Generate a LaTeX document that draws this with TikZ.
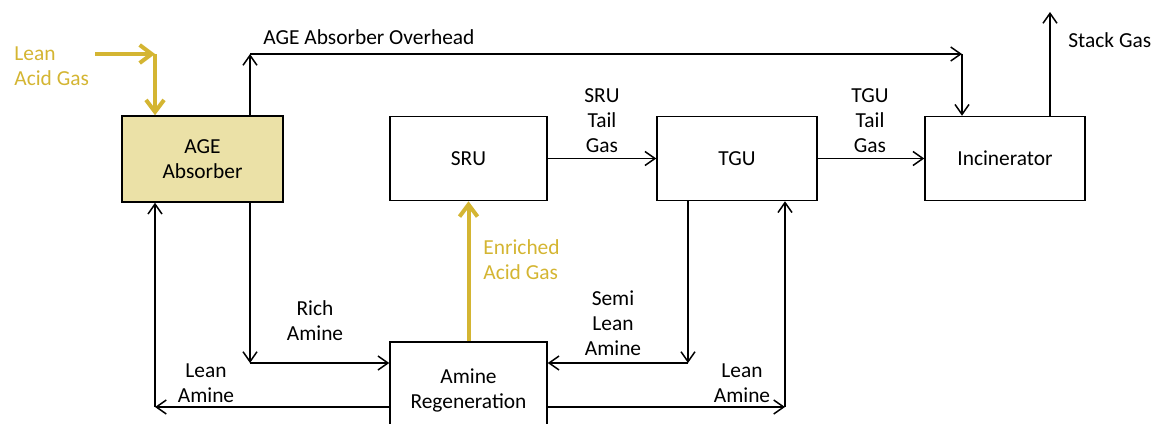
\documentclass[tikz,border=0pt]{standalone}
\usepackage{fontspec}
\setmainfont{Carlito}
\usetikzlibrary{arrows.meta}
\definecolor{gasyellow}{RGB}{212, 181, 50}
\definecolor{absorberfill}{RGB}{235, 225, 167}
\begin{document}
\begin{tikzpicture}[x=0.5pt, y=-0.5pt,
  unitbox/.style={draw, line width=0.75pt, minimum width=80pt, minimum height=42pt, font=\fontsize{10.7}{12.5}\selectfont, align=center},
  lbl/.style={font=\fontsize{10.7}{12.5}\selectfont, align=center, inner sep=0pt},
  flow/.style={line width=0.75pt, -{Straight Barb[length=5pt, width=7pt]}},
  gasline/.style={gasyellow, line width=2pt, -{Straight Barb[length=6pt, width=9pt, line width=2pt]}}]

  \useasboundingbox (0,0) rectangle (1156,423);
  \clip (0,0) rectangle (1156,423);

  % process units
  \node[unitbox, fill=absorberfill, minimum width=80.5pt, minimum height=43pt] (absorber) at (202.5,159) {AGE\\Absorber};
  \node[unitbox, minimum width=78.5pt] (sru) at (468.5,158.5) {SRU};
  \node[unitbox] (tgu) at (737,158.5) {TGU};
  \node[unitbox] (incin) at (1005,158.5) {Incinerator};
  \node[unitbox, minimum width=78.5pt, minimum height=48pt] (regen) at (468.5,390) {Amine\\Regeneration};

  % bend points
  \coordinate (lagin) at (95,54);
  \coordinate (lagcorner) at (155,54);
  \coordinate (ovtop) at (250,54);
  \coordinate (ovend) at (962,54);
  \coordinate (stacktop) at (1050,12);
  \coordinate (richcorner) at (250,363);
  \coordinate (semicorner) at (688,363);
  \coordinate (leanleft) at (155,407);
  \coordinate (leanright) at (785,407);

  % lean acid gas feed
  \draw[gasline] (lagin) -- (lagcorner);
  \draw[gasline] (lagcorner) -- (lagcorner |- absorber.north);
  \node[lbl, gasyellow, align=left, anchor=west] (lagtxt) at (14,66) {Lean\\Acid Gas};

  % absorber overhead to incinerator
  \draw[flow] (ovtop |- absorber.north) -- (ovtop);
  \draw[flow] (ovtop) -- (ovend);
  \draw[flow] (ovend) -- (ovend |- incin.north);
  \node[lbl, anchor=west] (ovtxt) at (263,37) {AGE Absorber Overhead};

  % tail gas line
  \draw[flow] (sru) -- (tgu);
  \node[lbl] (srutxt) at (602,121) {SRU\\Tail\\Gas};
  \draw[flow] (tgu) -- (incin);
  \node[lbl] (tgutxt) at (870,121) {TGU\\Tail\\Gas};
  \draw[flow] (stacktop |- incin.north) -- (stacktop);
  \node[lbl, anchor=west] (stacktxt) at (1068,40) {Stack Gas};

  % enriched acid gas
  \draw[gasline] (regen.north) -- (sru.south);
  \node[lbl, gasyellow, align=left, anchor=west] (eagtxt) at (483,260) {Enriched\\Acid Gas};

  % amine loops
  \draw[flow] (richcorner |- absorber.south) -- (richcorner);
  \draw[flow] (richcorner) -- (richcorner -| regen.west);
  \node[lbl] (richtxt) at (315,321) {Rich\\Amine};
  \draw[flow] (leanleft -| regen.west) -- (leanleft);
  \draw[flow] (leanleft) -- (leanleft |- absorber.south);
  \node[lbl] (leanltxt) at (206,383) {Lean\\Amine};
  \draw[flow] (semicorner |- tgu.south) -- (semicorner);
  \draw[flow] (semicorner) -- (semicorner -| regen.east);
  \node[lbl] (semitxt) at (613,323) {Semi\\Lean\\Amine};
  \draw[flow] (leanright -| regen.east) -- (leanright);
  \draw[flow] (leanright) -- (leanright |- tgu.south);
  \node[lbl] (leanrtxt) at (742,383) {Lean\\Amine};

\end{tikzpicture}
\end{document}
